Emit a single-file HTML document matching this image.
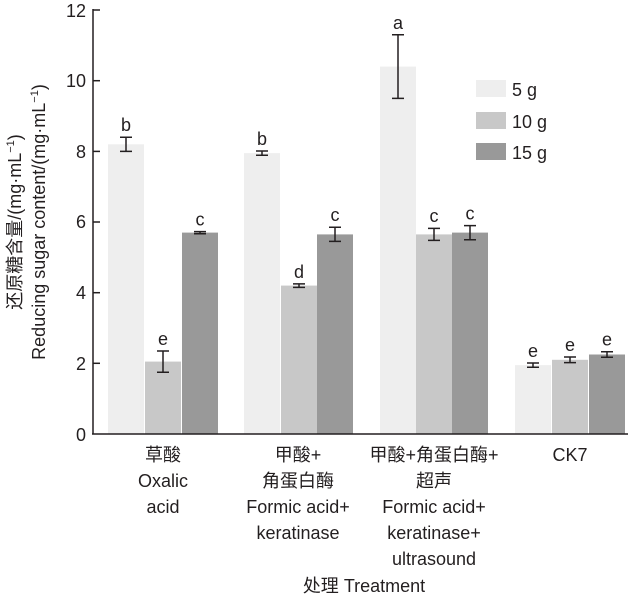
<!DOCTYPE html>
<html><head><meta charset="utf-8"><style>
body{margin:0;background:#fff;width:641px;height:598px;overflow:hidden}
svg text{font-family:"Liberation Sans","Noto Sans CJK SC",sans-serif;fill:#231f20}
</style></head><body>
<svg width="641" height="598" viewBox="0 0 641 598" xmlns="http://www.w3.org/2000/svg">
<g>
<rect x="108" y="144.3" width="36" height="289.7" fill="#eeeeee"/>
<rect x="145" y="361.6" width="36" height="72.4" fill="#c8c8c8"/>
<rect x="182" y="232.6" width="36" height="201.4" fill="#999999"/>
<rect x="244" y="153.1" width="36" height="280.9" fill="#eeeeee"/>
<rect x="281" y="285.6" width="36" height="148.4" fill="#c8c8c8"/>
<rect x="317" y="234.4" width="36" height="199.6" fill="#999999"/>
<rect x="380" y="66.6" width="36" height="367.4" fill="#eeeeee"/>
<rect x="416" y="234.4" width="36" height="199.6" fill="#c8c8c8"/>
<rect x="452" y="232.6" width="36" height="201.4" fill="#999999"/>
<rect x="515" y="365.1" width="36" height="68.9" fill="#eeeeee"/>
<rect x="552" y="359.8" width="36" height="74.2" fill="#c8c8c8"/>
<rect x="589" y="354.5" width="36" height="79.5" fill="#999999"/>
</g>
<g stroke="#231f20" stroke-width="1.5" fill="none">
<path d="M120 137.2H132M126 137.2V151.4M120 151.4H132"/>
<path d="M157 351H169M163 351V372.2M157 372.2H169"/>
<path d="M194 231.6H206M200 231.6V233.7M194 233.7H206"/>
<path d="M256 151H268M262 151V155.2M256 155.2H268"/>
<path d="M293 283.9H305M299 283.9V287.4M293 287.4H305"/>
<path d="M329 227.3H341M335 227.3V241.4M329 241.4H341"/>
<path d="M392 34.8H404M398 34.8V98.4M392 98.4H404"/>
<path d="M428 228.4H440M434 228.4V240.4M428 240.4H440"/>
<path d="M464 225.6H476M470 225.6V239.7M464 239.7H476"/>
<path d="M527 363H539M533 363V367.2M527 367.2H539"/>
<path d="M564 357H576M570 357V362.6M564 362.6H576"/>
<path d="M601 351.7H613M607 351.7V357.3M601 357.3H613"/>
</g>
<g font-size="18" text-anchor="middle">
<text x="126" y="131">b</text><text x="163" y="345">e</text><text x="200" y="225.6">c</text>
<text x="262" y="145">b</text><text x="299" y="278">d</text><text x="335" y="221">c</text>
<text x="398" y="28.8">a</text><text x="434" y="222">c</text><text x="470" y="219.6">c</text>
<text x="533" y="357">e</text><text x="570" y="351">e</text><text x="607" y="345.7">e</text>
</g>
<line x1="93" y1="9" x2="93" y2="434" stroke="#231f20" stroke-width="1.5"/>
<line x1="92" y1="434" x2="628" y2="434" stroke="#231f20" stroke-width="1.5"/>
<g stroke="#231f20" stroke-width="1.5">
<line x1="93" x2="100" y1="10" y2="10"/><line x1="93" x2="100" y1="80.7" y2="80.7"/>
<line x1="93" x2="100" y1="151.4" y2="151.4"/><line x1="93" x2="100" y1="222" y2="222"/>
<line x1="93" x2="100" y1="292.7" y2="292.7"/><line x1="93" x2="100" y1="363.3" y2="363.3"/>
</g>
<g font-size="18" text-anchor="end">
<text x="86" y="17">12</text><text x="86" y="87">10</text><text x="86" y="158">8</text>
<text x="86" y="228">6</text><text x="86" y="299">4</text><text x="86" y="370">2</text><text x="86" y="441">0</text>
</g>
<text transform="translate(21,222) rotate(-90)" font-size="18" text-anchor="middle">还原糖含量/(mg·mL<tspan font-size="11" dy="-7">−1</tspan><tspan dy="7">)</tspan></text>
<text transform="translate(45,222) rotate(-90)" font-size="18" text-anchor="middle">Reducing sugar content/(mg·mL<tspan font-size="11" dy="-7">−1</tspan><tspan dy="7">)</tspan></text>
<rect x="476" y="80" width="30" height="17" fill="#eeeeee"/><text x="512" y="96" font-size="18">5 g</text>
<rect x="476" y="112" width="30" height="17" fill="#c8c8c8"/><text x="512" y="128" font-size="18">10 g</text>
<rect x="476" y="143" width="30" height="17" fill="#999999"/><text x="512" y="159" font-size="18">15 g</text>
<g font-size="18" text-anchor="middle">
<text x="163" y="461">草酸</text><text x="163" y="487">Oxalic</text><text x="163" y="513">acid</text>
<text x="298" y="461">甲酸+</text><text x="298" y="487">角蛋白酶</text><text x="298" y="513">Formic acid+</text><text x="298" y="539">keratinase</text>
<text x="434" y="461">甲酸+角蛋白酶+</text><text x="434" y="487">超声</text><text x="434" y="513">Formic acid+</text><text x="434" y="539">keratinase+</text><text x="434" y="565">ultrasound</text>
<text x="570" y="461">CK7</text>
<text x="364" y="592">处理 Treatment</text>
</g>
</svg>
</body></html>
